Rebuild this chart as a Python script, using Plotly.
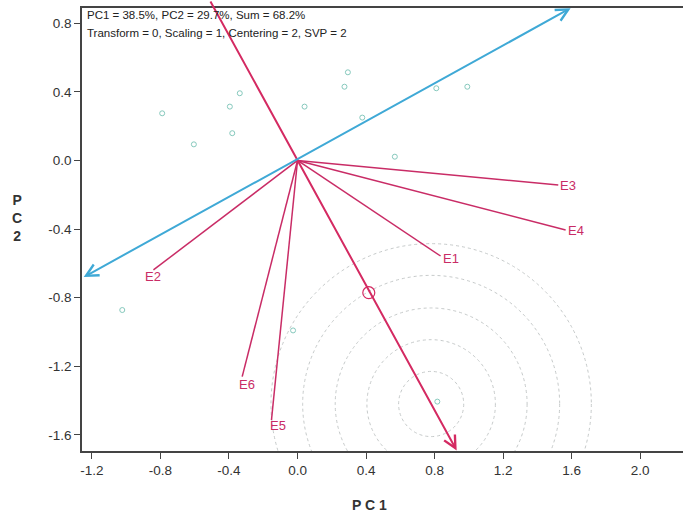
import plotly.graph_objects as go

# ---- data ----
env_names = ["E1", "E2", "E3", "E4", "E5", "E6"]
env_x = [0.835, -0.841, 1.522, 1.565, -0.152, -0.323]
env_y = [-0.557, -0.638, -0.143, -0.405, -1.513, -1.260]

geno_x = [-0.337, -0.395, -0.790, -0.381, -0.605, 0.294, 0.274, 0.041, 0.991,
          0.810, 0.378, 0.568, -1.023, -0.026, 0.816]
geno_y = [0.392, 0.314, 0.275, 0.159, 0.094, 0.514, 0.430, 0.314, 0.430,
          0.421, 0.250, 0.022, -0.872, -0.991, -1.406]

# average-environment axis (abscissa) : from top beyond frame to arrow tip
aea_start = (-0.513, 0.936)
aea_tip = (0.929, -1.691)
avg_env = (0.416, -0.771)
# ordinate (double arrow)
ord_left = (-1.257, -0.685)
ord_right = (1.594, 0.888)
# concentric circles around the ideal genotype
ideal_center = (0.780, -1.420)
circle_radii = [0.19, 0.375, 0.56, 0.75, 0.935]

x_ticks = [-1.2, -0.8, -0.4, 0.0, 0.4, 0.8, 1.2, 1.6, 2.0]
y_ticks = [-1.6, -1.2, -0.8, -0.4, 0.0, 0.4, 0.8]
header1 = "PC1 = 38.5%, PC2 = 29.7%, Sum = 68.2%"
header2 = "Transform = 0, Scaling = 1, Centering = 2, SVP = 2"

RED = "#d42a62"
ENV = "#c92c66"
CYAN = "#3fa9d6"
FONT = "Liberation Sans, Arial"

fig = go.Figure()

# circles
shapes = []
for r in circle_radii:
    shapes.append(dict(type="circle", xref="x", yref="y",
                       x0=ideal_center[0] - r, x1=ideal_center[0] + r,
                       y0=ideal_center[1] - r, y1=ideal_center[1] + r,
                       line=dict(color="#c6caca", width=1, dash="dot"),
                       layer="below"))

# genotype points
fig.add_trace(go.Scatter(x=geno_x, y=geno_y, mode="markers",
                         marker=dict(symbol="circle-open", size=5,
                                     color="#86c9bd", line=dict(width=1)),
                         hoverinfo="skip", showlegend=False))

# environment vectors
for name, ex, ey in zip(env_names, env_x, env_y):
    fig.add_trace(go.Scatter(x=[0, ex], y=[0, ey], mode="lines",
                             line=dict(color=ENV, width=1.5),
                             hoverinfo="skip", showlegend=False))

# average environment marker
fig.add_trace(go.Scatter(x=[avg_env[0]], y=[avg_env[1]], mode="markers",
                         marker=dict(symbol="circle-open", size=12, color=RED,
                                     line=dict(width=1.2)),
                         hoverinfo="skip", showlegend=False))

annotations = []
# AEA arrow
annotations.append(dict(x=aea_tip[0], y=aea_tip[1], ax=aea_start[0], ay=aea_start[1],
                        xref="x", yref="y", axref="x", ayref="y", text="",
                        showarrow=True, arrowhead=5, arrowsize=1.2, arrowwidth=2,
                        arrowcolor=RED, standoff=0))
# ordinate double arrow
annotations.append(dict(x=ord_right[0], y=ord_right[1], ax=ord_left[0], ay=ord_left[1],
                        xref="x", yref="y", axref="x", ayref="y", text="",
                        showarrow=True, arrowhead=5, startarrowhead=5,
                        arrowside="end+start", arrowsize=1.2, startarrowsize=1.2,
                        arrowwidth=2, arrowcolor=CYAN, standoff=0, startstandoff=0))

# environment labels
label_style = {
    "E1": dict(xanchor="left", xshift=0, yshift=-2),
    "E2": dict(xanchor="left", xshift=-10, yshift=-7),
    "E3": dict(xanchor="left", xshift=0, yshift=-1),
    "E4": dict(xanchor="left", xshift=0, yshift=-1),
    "E5": dict(xanchor="left", xshift=-3, yshift=-6),
    "E6": dict(xanchor="left", xshift=-5, yshift=-8),
}
for name, ex, ey in zip(env_names, env_x, env_y):
    st = label_style[name]
    annotations.append(dict(x=ex, y=ey, xref="x", yref="y", text=name,
                            showarrow=False, yanchor="middle",
                            font=dict(family=FONT, size=13, color=ENV),
                            **st))

# header
annotations.append(dict(x=0, y=1, xref="paper", yref="paper", text=header1,
                        showarrow=False, xanchor="left", yanchor="middle",
                        xshift=3, yshift=-7,
                        font=dict(family=FONT, size=11.5, color="#222")))
annotations.append(dict(x=0, y=1, xref="paper", yref="paper", text=header2,
                        showarrow=False, xanchor="left", yanchor="middle",
                        xshift=3, yshift=-25,
                        font=dict(family=FONT, size=11.5, color="#222")))
# axis titles
annotations.append(dict(x=0.479, y=-0.122, xref="paper", yref="paper", text="<b>P C 1</b>",
                        showarrow=False, xanchor="center", yanchor="middle",
                        font=dict(family=FONT, size=14, color="#333")))
annotations.append(dict(x=-0.108, y=0.526, xref="paper", yref="paper", text="<b>P<br>C<br>2</b>",
                        showarrow=False, xanchor="center", yanchor="middle",
                        font=dict(family=FONT, size=14, color="#333")))

fig.update_layout(
    width=683, height=515,
    margin=dict(l=82, r=0, t=8, b=64),
    plot_bgcolor="white", paper_bgcolor="white",
    shapes=shapes, annotations=annotations, showlegend=False,
    xaxis=dict(range=[-1.258, 2.25], tickvals=x_ticks,
               ticktext=[f"{v:.1f}" for v in x_ticks],
               showgrid=False, zeroline=False, showline=True, mirror=True,
               linecolor="#444", linewidth=1.5, ticks="outside", ticklen=6,
               tickcolor="#444", tickfont=dict(family=FONT, size=13.5, color="#333")),
    yaxis=dict(range=[-1.694, 0.889], tickvals=y_ticks,
               ticktext=[f"{v:.1f}" for v in y_ticks],
               showgrid=False, zeroline=False, showline=True, mirror=False,
               linecolor="#444", linewidth=1.5, ticks="outside", ticklen=6,
               tickcolor="#444", tickfont=dict(family=FONT, size=13.5, color="#333")),
)

fig.write_html("out.html")
